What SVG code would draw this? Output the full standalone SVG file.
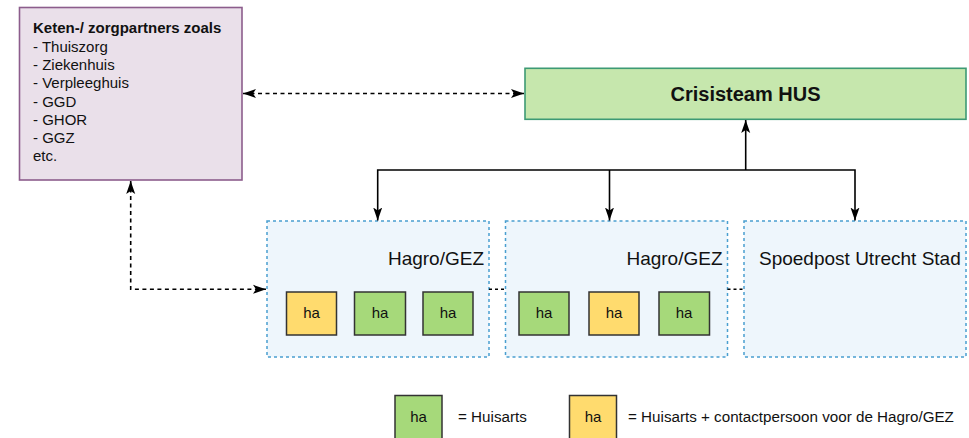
<svg xmlns="http://www.w3.org/2000/svg" width="969" height="438" viewBox="0 0 969 438">
<defs>
<marker id="ah2" viewBox="0 0 13 10" refX="13" refY="5" markerWidth="13" markerHeight="10" orient="auto-start-reverse" markerUnits="userSpaceOnUse"><path d="M0,0.5 L13,5 L0,9.5 L3,5 z" fill="#000"/></marker>
</defs>
<style>
text{font-family:"Liberation Sans",Arial,sans-serif;fill:#111}
.group{fill:#eef6fc;stroke:#4a9fd0;stroke-width:1.5;stroke-dasharray:3 3}
.ha{stroke:#333;stroke-width:1.5}
.g{fill:#a6d97a}
.y{fill:#ffdb6e}
.hat{font-size:15px;text-anchor:middle}
.lab{font-size:19px}
.line{fill:none;stroke:#000;stroke-width:1.6}
.dash{fill:none;stroke:#000;stroke-width:1.6;stroke-dasharray:4 3.5}
.dot{fill:none;stroke:#000;stroke-width:1.5;stroke-dasharray:3 3}
.leg{font-size:15.2px}
</style>
<rect width="969" height="438" fill="#fff"/>
<g id="partners">
<rect x="19.5" y="7.5" width="222.5" height="172.5" fill="#eae0ea" stroke="#8c5d8c" stroke-width="1.6"/>
<text x="33" y="33.3" font-size="15" font-weight="bold">Keten-/ zorgpartners zoals</text>
<text x="33" y="51.6" font-size="15">- Thuiszorg</text>
<text x="33" y="69.9" font-size="15">- Ziekenhuis</text>
<text x="33" y="88.2" font-size="15">- Verpleeghuis</text>
<text x="33" y="106.5" font-size="15">- GGD</text>
<text x="33" y="124.8" font-size="15">- GHOR</text>
<text x="33" y="143.1" font-size="15">- GGZ</text>
<text x="33" y="161.4" font-size="15">etc.</text>
</g>
<g id="crisisteam">
<rect x="525" y="68.3" width="441" height="51" fill="#c6e7ad" stroke="#3d9a74" stroke-width="1.6"/>
<text x="745.5" y="100.5" font-size="20" font-weight="bold" text-anchor="middle">Crisisteam HUS</text>
</g>
<g id="hagro1">
<rect class="group" x="267" y="221" width="222" height="136"/>
<text class="lab" x="484" y="265" text-anchor="end">Hagro/GEZ</text>
<rect class="ha y" x="286.5" y="292" width="50" height="43"/><text class="hat" x="311.5" y="318">ha</text>
<rect class="ha g" x="354.5" y="292" width="51" height="43"/><text class="hat" x="380" y="318">ha</text>
<rect class="ha g" x="423" y="292" width="50" height="43"/><text class="hat" x="448" y="318">ha</text>
</g>
<g id="hagro2">
<rect class="group" x="505.5" y="221" width="222" height="136"/>
<text class="lab" x="722.5" y="265" text-anchor="end">Hagro/GEZ</text>
<rect class="ha g" x="519" y="292" width="50" height="43"/><text class="hat" x="544" y="318">ha</text>
<rect class="ha y" x="589" y="292" width="50" height="43"/><text class="hat" x="614" y="318">ha</text>
<rect class="ha g" x="659" y="292" width="50.5" height="43"/><text class="hat" x="684" y="318">ha</text>
</g>
<g id="spoedpost">
<rect class="group" x="744" y="221" width="222" height="136"/>
<text class="lab" x="759" y="265">Spoedpost Utrecht Stad</text>
</g>
<g id="connectors">
<line class="dash" x1="243" y1="93.5" x2="524" y2="93.5" marker-start="url(#ah2)" marker-end="url(#ah2)"/>
<polyline class="dash" points="130.7,181 130.7,289.3 266,289.3" marker-start="url(#ah2)" marker-end="url(#ah2)"/>
<line class="dot" x1="489" y1="289.3" x2="505.5" y2="289.3"/>
<line class="dot" x1="727.5" y1="289.3" x2="744" y2="289.3"/>
<line class="line" x1="745.7" y1="170" x2="745.7" y2="120" marker-end="url(#ah2)"/>
<polyline class="line" points="377.7,220.5 377.7,170 855,170 855,220.5" marker-start="url(#ah2)" marker-end="url(#ah2)"/>
<line class="line" x1="609.5" y1="170" x2="609.5" y2="220.5" marker-end="url(#ah2)"/>
</g>
<g id="legend">
<rect class="ha g" x="395" y="395.5" width="47" height="46"/><text class="hat" x="418.5" y="421.5">ha</text>
<text class="leg" x="458" y="421.5">= Huisarts</text>
<rect class="ha y" x="569.5" y="395.5" width="47" height="46"/><text class="hat" x="593" y="421.5">ha</text>
<text class="leg" x="628" y="421.5">= Huisarts + contactpersoon voor de Hagro/GEZ</text>
</g>
</svg>
